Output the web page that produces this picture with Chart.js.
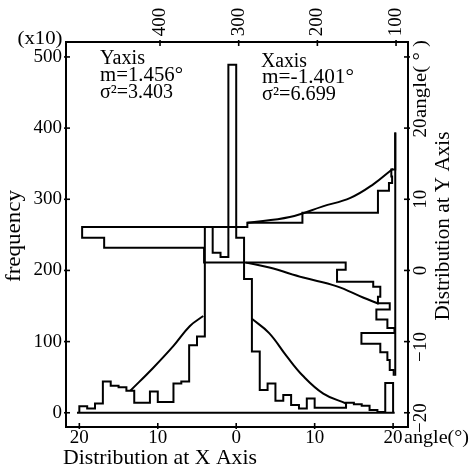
<!DOCTYPE html>
<html>
<head>
<meta charset="utf-8">
<script src="https://cdn.jsdelivr.net/npm/chart.js@4.4.0/dist/chart.umd.min.js"></script>
<style>
html, body { margin: 0; padding: 0; background: #fff; }
#caja { width: 472px; height: 472px; }
</style>
</head>
<body>
<div id="caja"><canvas id="lienzoGrafica" width="472" height="472"></canvas></div>
<script>
'use strict';

// Distribucion en X: bordes de clase (grados) y frecuencia (x10)
const xBinEdges = [-20, -19, -18, -17, -16, -15, -14, -13, -12, -11, -10, -9, -8, -7, -6, -5, -4, -3, -2, -1,
                   0, 1, 2, 3, 4, 5, 6, 7, 8, 9, 10, 11, 12, 13, 14, 15, 16, 17, 18, 19, 20];
const xBinFreq = [9, 6, 13, 44, 38, 36, 31, 14, 14, 30, 15, 15, 41, 44, 95, 107, 261, 225, 219, 489,
                  246, 188, 86, 32, 41, 17, 25, 11, 6, 20, 7, 7, 7, 7, 14, 12, 10, 4, 1, 42];

// curva ajustada de la distribucion en X (dos tramos)
const xFitLeftAngle = [-13.5, -10.6, -8.0, -5.9, -4.2];
const xFitLeftFreq = [31, 63, 94, 122, 136];
const xFitRightAngle = [2.0, 4.2, 6.4, 8.5, 11.1, 14.0];
const xFitRightFreq = [132, 112, 80, 52, 27, 13];

// Distribucion en Y: bordes de clase (grados, eje derecho) y frecuencia (eje superior)
const yBinEdges = [19.4, 14.2, 13.2, 12.3, 11.2, 8.1, 6.7, 6.1, 4.6, 3.2, 1.1, 0.1, -1.6, -2.3, -3.7,
                   -4.6, -5.5, -6.9, -8.1, -8.8, -10.3, -11.5, -12.6, -14.0, -14.8];
const yBinFreq = [101, 106, 105, 109, 123, 219, 289, 499, 471, 344, 164, 175, 129, 120, 123,
                  108, 125, 111, 102, 144, 120, 111, 108, 103];
const yBase = 101;

// curva ajustada de la distribucion en Y (dos tramos)
const yFitUpperFreq = [289, 235, 193, 158, 129, 104];
const yFitUpperAngle = [6.7, 7.5, 9.0, 10.2, 12.1, 14.3];
const yFitLowerFreq = [291, 261, 218, 176, 142, 122];
const yFitLowerAngle = [1.1, 0.4, -1.0, -2.2, -3.8, -4.7];

// etiquetas de los ejes
const leftTicks = [0, 100, 200, 300, 400, 500];
const bottomTicks = [-20, -10, 0, 10, 20];
const topTicks = [100, 200, 300, 400];
const rightTicks = [-20, -10, 0, 10, 20];
const rightTickExtra = 30;

const FUENTE = '"Liberation Serif", "DejaVu Serif", serif';

// histograma vertical (frecuencia hacia arriba)
function escalonX(edges, freq) {
    const pts = [{x: edges[0], y: 0}];
    freq.forEach((f, i) => {
        pts.push({x: edges[i], y: f});
        pts.push({x: edges[i + 1], y: f});
    });
    pts.push({x: edges[edges.length - 1], y: 0});
    return pts;
}

// histograma horizontal (frecuencia hacia la izquierda)
function escalonY(edges, freq) {
    const pts = [];
    freq.forEach((f, i) => {
        pts.push({x: f, y: edges[i]});
        pts.push({x: f, y: edges[i + 1]});
    });
    return pts;
}

function juntar(xs, ys) {
    return xs.map((v, i) => ({x: v, y: ys[i]}));
}

function texto(ctx, str, cx, cy, opt) {
    opt = opt || {};
    ctx.save();
    ctx.translate(cx, cy);
    if (opt.rot) ctx.rotate(opt.rot);
    ctx.font = (opt.size || 19) + 'px ' + FUENTE;
    ctx.textAlign = opt.align || 'center';
    ctx.textBaseline = 'middle';
    if (opt.w) {
        const m = ctx.measureText(str).width;
        ctx.scale(opt.w / m, 1);
    }
    ctx.fillText(str, 0, 0);
    ctx.restore();
}

function raya(ctx, x1, y1, x2, y2) {
    ctx.beginPath();
    ctx.moveTo(x1, y1);
    ctx.lineTo(x2, y2);
    ctx.stroke();
}

const textosPlugin = {
    id: 'textos',
    afterDraw(chart) {
        const ctx = chart.ctx;
        const {x, y, x2, y2} = chart.scales;
        const a = chart.chartArea;
        ctx.save();
        ctx.strokeStyle = '#000';
        ctx.fillStyle = '#000';
        ctx.lineWidth = 1.6;

        // marcas hacia dentro
        leftTicks.forEach(v => { const p = y.getPixelForValue(v); raya(ctx, a.left - 2, p, a.left + 4, p); });
        bottomTicks.forEach(v => { const p = x.getPixelForValue(v); raya(ctx, p, a.bottom + 2, p, a.bottom - 4); });
        topTicks.forEach(v => { const p = x2.getPixelForValue(v); raya(ctx, p, a.top - 2, p, a.top + 4); });
        rightTicks.concat([rightTickExtra]).forEach(v => { const p = y2.getPixelForValue(v); raya(ctx, a.right + 2, p, a.right - 4, p); });

        // etiquetas de los ejes
        leftTicks.forEach(v => texto(ctx, String(v), 62, y.getPixelForValue(v), {align: 'right'}));
        bottomTicks.forEach(v => texto(ctx, String(Math.abs(v)), x.getPixelForValue(v), 438));
        topTicks.forEach(v => texto(ctx, String(v), x2.getPixelForValue(v), 22, {rot: -Math.PI / 2}));
        rightTicks.forEach(v => {
            const p = y2.getPixelForValue(v);
            texto(ctx, String(Math.abs(v)), 421, p, {rot: -Math.PI / 2});
            if (v < 0) texto(ctx, '\u2212', 421, p + 15, {rot: -Math.PI / 2});
        });

        texto(ctx, '(x10)', 40, 39, {w: 45});
        texto(ctx, 'frequency', 15, 236, {rot: -Math.PI / 2, w: 92, size: 20});
        texto(ctx, 'Distribution at X Axis', 160, 458, {w: 194, size: 21});
        texto(ctx, 'angle(\u00b0)', 404, 438, {align: 'left', w: 65});
        texto(ctx, 'angle( \u00b0 )', 421, 79, {rot: -Math.PI / 2, w: 78});
        texto(ctx, 'Distribution at Y Axis', 443, 226, {rot: -Math.PI / 2, w: 189, size: 21});

        texto(ctx, 'Yaxis', 100, 59, {align: 'left', w: 45, size: 20});
        texto(ctx, 'm=1.456\u00b0', 100, 76, {align: 'left', w: 83, size: 20});
        texto(ctx, '\u03c3\u00b2=3.403', 100, 93, {align: 'left', w: 73, size: 20});
        texto(ctx, 'Xaxis', 261, 62, {align: 'left', w: 46, size: 20});
        texto(ctx, 'm=-1.401\u00b0', 262, 78, {align: 'left', w: 92, size: 20});
        texto(ctx, '\u03c3\u00b2=6.699', 262, 95, {align: 'left', w: 74, size: 20});
        ctx.restore();
    }
};

function serie(data, ejeX, ejeY, curva) {
    return {
        data: data,
        xAxisID: ejeX,
        yAxisID: ejeY,
        showLine: true,
        borderColor: '#000',
        backgroundColor: '#000',
        borderWidth: 2,
        pointRadius: 0,
        fill: false,
        tension: curva ? 0.4 : 0
    };
}

const ejeBase = {
    type: 'linear',
    grid: {display: false, drawTicks: false},
    ticks: {display: false},
    border: {display: true, color: '#000', width: 2}
};

const ctx = document.getElementById('lienzoGrafica');
const myChart = new Chart(ctx, {
    type: 'scatter',
    data: {
        datasets: [
            serie(escalonX(xBinEdges, xBinFreq), 'x', 'y', false),
            serie([{x: -20.3, y: 0}, {x: 20.2, y: 0}], 'x', 'y', false),
            serie(juntar(xFitLeftAngle, xFitLeftFreq), 'x', 'y', true),
            serie(juntar(xFitRightAngle, xFitRightFreq), 'x', 'y', true),
            serie(escalonY(yBinEdges, yBinFreq), 'x2', 'y2', false),
            serie([{x: yBase, y: yBinEdges[0]}, {x: yBase, y: yBinEdges[yBinEdges.length - 1]}], 'x2', 'y2', false),
            serie(juntar(yFitUpperFreq, yFitUpperAngle), 'x2', 'y2', true),
            serie(juntar(yFitLowerFreq, yFitLowerAngle), 'x2', 'y2', true)
        ]
    },
    options: {
        responsive: false,
        animation: false,
        devicePixelRatio: 1,
        layout: {padding: {left: 66, top: 42, right: 64, bottom: 45}},
        plugins: {legend: {display: false}, tooltip: {enabled: false}},
        scales: {
            x: Object.assign({}, ejeBase, {position: 'bottom', min: -21.7, max: 21.9}),
            y: Object.assign({}, ejeBase, {position: 'left', min: -20, max: 521}),
            x2: Object.assign({}, ejeBase, {position: 'top', min: 84.8, max: 519.5, reverse: true}),
            y2: Object.assign({}, ejeBase, {position: 'right', min: -22, max: 32.1})
        }
    },
    plugins: [textosPlugin]
});
</script>
</body>
</html>
